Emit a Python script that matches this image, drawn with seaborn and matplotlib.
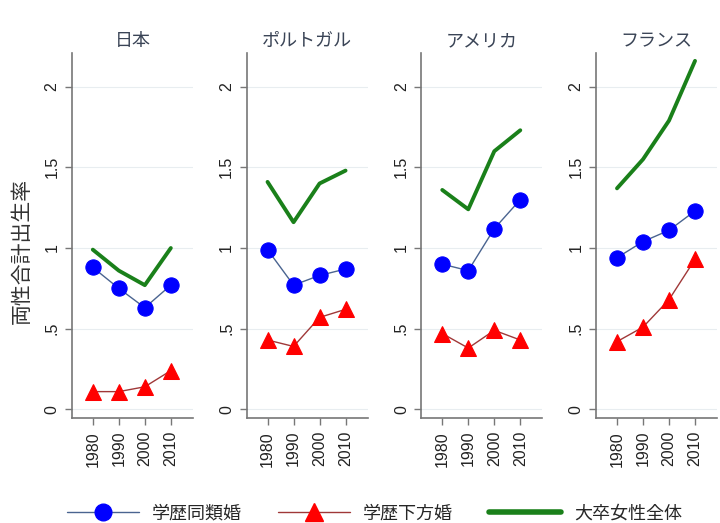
import pandas as pd
import seaborn as sns
import matplotlib.pyplot as plt
from matplotlib.lines import Line2D

countries = ['日本', 'ポルトガル', 'アメリカ', 'フランス']
years = [1980, 1990, 2000, 2010]

# 学歴同類婚
homogamy = [[0.88, 0.75, 0.63, 0.77],
            [0.99, 0.77, 0.83, 0.87],
            [0.90, 0.86, 1.12, 1.30],
            [0.94, 1.04, 1.11, 1.23]]
# 学歴下方婚
hypogamy = [[0.11, 0.11, 0.14, 0.24],
            [0.43, 0.39, 0.57, 0.62],
            [0.47, 0.38, 0.49, 0.43],
            [0.42, 0.51, 0.68, 0.93]]
# 大卒女性全体
college_women = [[0.99, 0.86, 0.77, 1.00],
                 [1.41, 1.16, 1.40, 1.48],
                 [1.36, 1.24, 1.60, 1.73],
                 [1.37, 1.55, 1.79, 2.16]]

series_names = ['学歴同類婚', '学歴下方婚', '大卒女性全体']

rows = []
for i, c in enumerate(countries):
    for j, y in enumerate(years):
        rows.append([c, y, series_names[0], homogamy[i][j]])
        rows.append([c, y, series_names[1], hypogamy[i][j]])
        rows.append([c, y, series_names[2], college_women[i][j]])
df = pd.DataFrame(rows, columns=['country', 'year', 'series', 'tfr'])

sns.set_style('white')
plt.rcParams['font.family'] = ['Noto Sans CJK JP', 'DejaVu Sans']

styles = {
    '学歴同類婚': dict(color='#4a6490', lw=1.0, marker='o', ms=11, mfc='#0000ff', mec='#0000ff'),
    '学歴下方婚': dict(color='#a03838', lw=1.0, marker='^', ms=12, mfc='#ff0000', mec='#ff0000'),
    '大卒女性全体': dict(color='#1a801a', lw=2.8, marker=None),
}

fig, axes = plt.subplots(1, 4, figsize=(7.2, 5.23), dpi=100)
fig.subplots_adjust(left=0.1, right=0.996, bottom=0.2, top=0.899, wspace=0.445)

for ax, c in zip(axes, countries):
    sub = df[df['country'] == c]
    for s in series_names:
        st = styles[s]
        d = sub[sub['series'] == s]
        sns.lineplot(data=d, x='year', y='tfr', ax=ax, color=st['color'], lw=st['lw'],
                     marker=st['marker'], markersize=st.get('ms', 0),
                     markerfacecolor=st.get('mfc'), markeredgecolor=st.get('mec'),
                     zorder=3 if s != '大卒女性全体' else 2)
    ax.set_xlim(1972, 2018.5)
    ax.set_ylim(-0.056, 2.21)
    ax.set_xticks(years)
    ax.set_xticklabels([str(y) for y in years], rotation=90, fontsize=11.5, family='Liberation Sans')
    ax.set_yticks([0, 0.5, 1, 1.5, 2])
    ax.set_yticklabels(['0', '.5', '1', '1.5', '2'], rotation=90, va='center',
                       fontsize=11.5, family='Liberation Sans')
    ax.yaxis.grid(True, color='#e8edf0', lw=0.8)
    ax.set_xlabel('')
    ax.set_ylabel('')
    ax.set_title(c, fontsize=13, color='#3a4456', pad=5)
    for side in ['top', 'right']:
        ax.spines[side].set_visible(False)
    for side in ['left', 'bottom']:
        ax.spines[side].set_color('#777777')
        ax.spines[side].set_linewidth(1.2)
    ax.tick_params(axis='both', direction='out', length=5, width=1, color='#777777',
                   labelcolor='#222222', left=True, bottom=True, pad=4)

fig.text(0.03, 0.52, '両性合計出生率', rotation=90, va='center', ha='center',
         fontsize=15, color='#333333')

handles = []
for s in series_names:
    st = styles[s]
    handles.append(Line2D([], [], color=st['color'], lw=st['lw'] if s != '大卒女性全体' else 4,
                          marker=st['marker'], markersize=st.get('ms', 0) + 1,
                          markerfacecolor=st.get('mfc'), markeredgecolor=st.get('mec')))
fig.legend(handles, series_names, loc='lower center', ncol=3, frameon=False,
           bbox_to_anchor=(0.52, -0.03), fontsize=13, handlelength=4.0,
           columnspacing=2.0, handletextpad=0.7)

fig.savefig('out.png', dpi=100)
